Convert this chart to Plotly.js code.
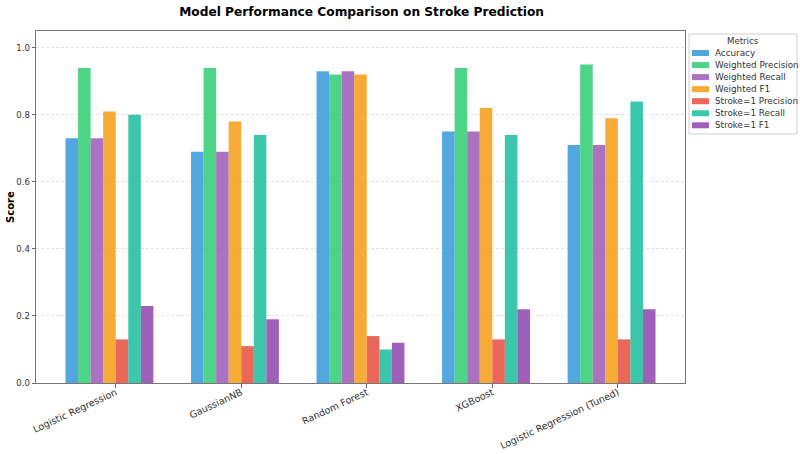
<!DOCTYPE html>
<html>
<head>
<meta charset="utf-8">
<script src="https://cdn.plot.ly/plotly-3.0.1.min.js"></script>
<style>
  html, body { margin: 0; padding: 0; background: #fff; }
  #graph { width: 800px; height: 454px; }
</style>
</head>
<body>
<div id="graph"></div>
<script>
// models on the x axis
var models = ['Logistic Regression', 'GaussianNB', 'Random Forest', 'XGBoost', 'Logistic Regression (Tuned)'];

// one array per metric
var accuracy       = [0.73, 0.69, 0.93, 0.75, 0.71];
var weightedPrec   = [0.94, 0.94, 0.92, 0.94, 0.95];
var weightedRecall = [0.73, 0.69, 0.93, 0.75, 0.71];
var weightedF1     = [0.81, 0.78, 0.92, 0.82, 0.79];
var strokePrec     = [0.13, 0.11, 0.14, 0.13, 0.13];
var strokeRecall   = [0.80, 0.74, 0.10, 0.74, 0.84];
var strokeF1       = [0.23, 0.19, 0.12, 0.22, 0.22];

var metricNames = ['Accuracy', 'Weighted Precision', 'Weighted Recall', 'Weighted F1',
                   'Stroke=1 Precision', 'Stroke=1 Recall', 'Stroke=1 F1'];
var metricValues = [accuracy, weightedPrec, weightedRecall, weightedF1, strokePrec, strokeRecall, strokeF1];
var colors = ['#3498db', '#2ecc71', '#9b59b6', '#f39c12', '#e74c3c', '#1abc9c', '#8e44ad'];

var W = 800, H = 454;
var M = { l: 36, r: 115, t: 31, b: 71 };

var barWidth = 0.1;
var data = [];
for (var j = 0; j < metricNames.length; j++) {
    data.push({
        type: 'bar',
        name: metricNames[j],
        x: models,
        y: metricValues[j],
        width: barWidth,
        offset: (j - 4) * barWidth,
        marker: { color: colors[j], opacity: 0.85, line: { width: 0 } },
        hoverinfo: 'x+y+name'
    });
}

// pixel -> paper helpers for things placed outside the plot area
function px(x) { return (x - M.l) / (W - M.l - M.r); }
function py(y) { return (H - M.b - y) / (H - M.t - M.b); }

// compact legend like matplotlib's (plotly's own legend is too wide here)
var shapes = [{
    type: 'rect', xref: 'paper', yref: 'paper',
    x0: px(689), x1: px(797), y0: py(34), y1: py(134),
    line: { color: '#d0d0d0', width: 1 }, fillcolor: 'rgba(255,255,255,0.9)', layer: 'above'
}];
var annotations = [{
    xref: 'paper', yref: 'paper', x: px(743), y: py(41.5),
    text: 'Metrics', showarrow: false, xanchor: 'center', yanchor: 'middle',
    font: { size: 8.6, color: '#333' }
}, {
    // y axis title
    xref: 'paper', yref: 'paper', x: px(10), y: 0.5, textangle: -90,
    text: '<b>Score</b>', showarrow: false, xanchor: 'center', yanchor: 'middle',
    font: { size: 10, color: '#000' }
}];
for (var k = 0; k < metricNames.length; k++) {
    var cy = 53 + k * 12.05;
    shapes.push({
        type: 'rect', xref: 'paper', yref: 'paper',
        x0: px(692), x1: px(709), y0: py(cy - 3), y1: py(cy + 3),
        line: { width: 0 }, fillcolor: colors[k], opacity: 0.85, layer: 'above'
    });
    annotations.push({
        xref: 'paper', yref: 'paper', x: px(713), y: py(cy),
        text: metricNames[k], showarrow: false, xanchor: 'left', yanchor: 'middle',
        font: { size: 8.8, color: '#333' }
    });
}

var layout = {
    width: W,
    height: H,
    paper_bgcolor: '#fff',
    plot_bgcolor: '#fff',
    font: { family: 'DejaVu Sans, sans-serif', color: '#333', size: 9 },
    margin: { l: M.l, r: M.r, t: M.t, b: M.b, autoexpand: false },
    title: {
        text: '<b>Model Performance Comparison on Stroke Prediction</b>',
        font: { size: 12.2, color: '#000' },
        x: 0.452, xanchor: 'center', y: 0.975, yanchor: 'middle'
    },
    barmode: 'overlay',
    showlegend: false,
    xaxis: {
        type: 'category',
        range: [-0.635, 4.535],
        tickangle: -25,
        ticks: 'outside', ticklen: 3.5, tickcolor: '#666',
        ticklabelstandoff: -4,
        tickfont: { size: 9.5, color: '#333' },
        showline: true, linecolor: '#777', linewidth: 1, mirror: true,
        showgrid: false, zeroline: false, fixedrange: true, automargin: false
    },
    yaxis: {
        range: [0, 1.05],
        tickvals: [0, 0.2, 0.4, 0.6, 0.8, 1.0],
        tickformat: '.1f',
        ticks: 'outside', ticklen: 3.5, tickcolor: '#666',
        tickfont: { size: 8.5, color: '#333' },
        showline: true, linecolor: '#777', linewidth: 1, mirror: true,
        showgrid: true, gridcolor: '#e2e2e2', griddash: '3px,2px', gridwidth: 0.7,
        zeroline: false, fixedrange: true, automargin: false
    },
    shapes: shapes,
    annotations: annotations
};

Plotly.newPlot('graph', data, layout, { displayModeBar: false, responsive: false });
</script>
</body>
</html>
